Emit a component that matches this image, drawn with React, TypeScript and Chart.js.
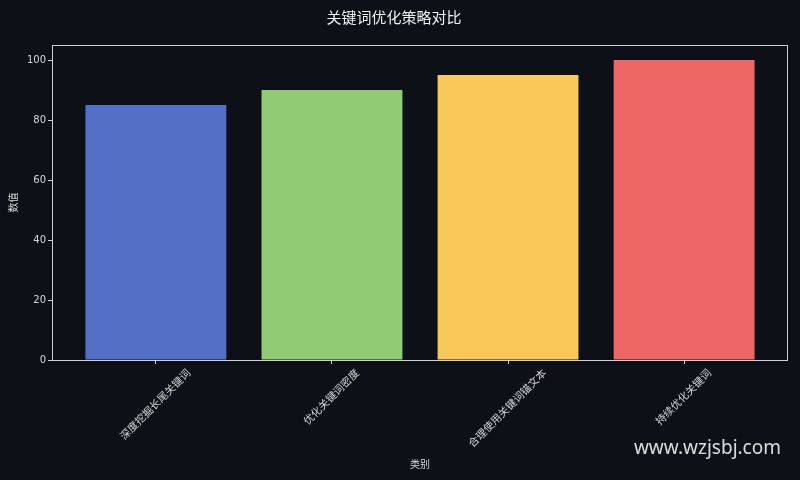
import { useEffect, useRef } from 'react';
import Chart from 'chart.js/auto';

const categories = ['深度挖掘长尾关键词', '优化关键词密度', '合理使用关键词锚文本', '持续优化关键词'];
const values = [85, 90, 95, 100];
const barColors = ['#5470c6', '#91cc75', '#fac858', '#ee6666'];
const yTicks = [0, 20, 40, 60, 80, 100];

const BG = '#0d1017';
const FG = '#d6d6d6';
const FONT = "'DejaVu Sans', 'Noto Sans CJK SC', sans-serif";

const framePlugin = {
  id: 'frame',
  beforeDraw(chart: Chart) {
    const { ctx, width, height } = chart;
    ctx.save();
    ctx.fillStyle = BG;
    ctx.fillRect(0, 0, width, height);
    ctx.restore();
  },
  afterDraw(chart: Chart) {
    const { ctx, chartArea, width, height } = chart;
    const xScale = chart.scales.x;
    ctx.save();
    ctx.strokeStyle = '#cfcfcf';
    ctx.lineWidth = 1;
    ctx.strokeRect(chartArea.left + 0.5, chartArea.top + 0.5, chartArea.right - chartArea.left - 1, chartArea.bottom - chartArea.top);

    // rotated category labels, centred on their ticks (matplotlib style)
    const size = 10.5;
    ctx.font = `${size}px ${FONT}`;
    ctx.fillStyle = FG;
    ctx.textAlign = 'center';
    ctx.textBaseline = 'middle';
    const top = chartArea.bottom + 8;
    categories.forEach((label, i) => {
      const x = xScale.getPixelForValue(i);
      const w = ctx.measureText(label).width;
      const box = (w + size) * Math.SQRT1_2;
      ctx.save();
      ctx.translate(x, top + box / 2);
      ctx.rotate(-Math.PI / 4);
      ctx.fillText(label, 0, 0);
      ctx.restore();
    });

    // watermark
    ctx.font = "19px 'Noto Sans', sans-serif";
    ctx.fillStyle = 'rgba(255, 255, 255, 0.85)';
    ctx.textAlign = 'right';
    ctx.textBaseline = 'middle';
    ctx.fillText('www.wzjsbj.com', width - 19, height - 31);
    ctx.restore();
  }
};

export default function App() {
  const canvasRef = useRef<HTMLCanvasElement | null>(null);

  useEffect(() => {
    const canvas = canvasRef.current;
    if (!canvas) return;

    const chart = new Chart(canvas, {
      type: 'bar',
      data: {
        datasets: [
          {
            label: '数值',
            data: values.map((v, i) => ({ x: i, y: v })),
            backgroundColor: barColors,
            borderWidth: 0,
            categoryPercentage: 1,
            barPercentage: 0.8
          }
        ]
      },
      options: {
        animation: false,
        responsive: false,
        devicePixelRatio: 1,
        layout: { padding: { left: 0, right: 12, top: 1, bottom: 9 } },
        plugins: {
          legend: { display: false },
          tooltip: { enabled: false },
          title: {
            display: true,
            text: '关键词优化策略对比',
            color: '#f0f0f0',
            font: { family: FONT, size: 15, weight: 'normal' },
            padding: { top: 9, bottom: 17 }
          }
        },
        scales: {
          x: {
            type: 'linear',
            min: -0.59,
            max: 3.59,
            offset: false,
            afterBuildTicks: (axis: any) => {
              axis.ticks = categories.map((_, i) => ({ value: i }));
            },
            afterFit: (axis: any) => {
              axis.height = 111;
            },
            grid: {
              display: true,
              offset: false,
              drawOnChartArea: false,
              drawTicks: true,
              tickLength: 4,
              color: '#cfcfcf'
            },
            border: { display: false },
            ticks: { display: false },
            title: {
              display: true,
              text: '类别',
              color: FG,
              font: { family: FONT, size: 10 },
              padding: { top: 0, bottom: 0 }
            }
          },
          y: {
            min: 0,
            max: 105,
            afterBuildTicks: (axis: any) => {
              axis.ticks = yTicks.map(v => ({ value: v }));
            },
            afterFit: (axis: any) => {
              axis.width = 52;
            },
            grid: {
              display: true,
              drawOnChartArea: false,
              drawTicks: true,
              tickLength: 4,
              color: '#cfcfcf'
            },
            border: { display: false },
            ticks: {
              color: FG,
              font: { family: FONT, size: 10 },
              padding: 2
            },
            title: {
              display: true,
              text: '数值',
              color: FG,
              font: { family: FONT, size: 10 },
              padding: { top: 8, bottom: 0 }
            }
          }
        }
      },
      plugins: [framePlugin]
    });

    return () => {
      chart.destroy();
    };
  }, []);

  return (
    <div style={{ position: 'fixed', left: 0, top: 0, width: 800, height: 480, background: BG }}>
      <canvas ref={canvasRef} width={800} height={480} />
    </div>
  );
}
